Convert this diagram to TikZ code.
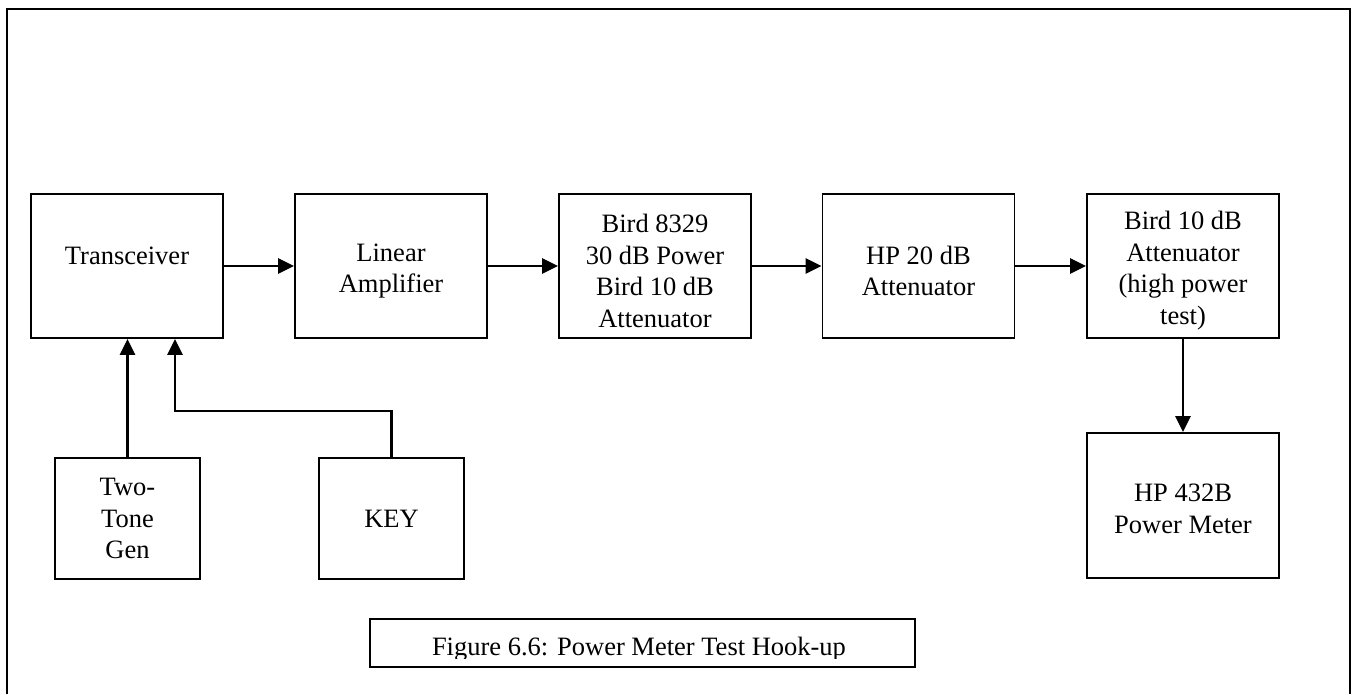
\documentclass[tikz,border=0pt]{standalone}
\usepackage{fontspec}
\setmainfont{Liberation Serif}
\usetikzlibrary{arrows.meta}
% taller first line, pushes the block text down a little
\newcommand{\tpad}[1][28pt]{\rule{0pt}{#1}}

\begin{document}
\begin{tikzpicture}[x=1pt,y=-1pt]
\tikzset{
  blk/.style={draw, line width=1.8pt, minimum width=192pt, minimum height=144pt,
    inner sep=0pt, align=center, font=\fontsize{26.5}{31.5}\selectfont},
  sml/.style={blk, minimum width=145pt, minimum height=121pt},
  sig/.style={-{Triangle[length=16pt,width=15pt]}, line width=2.6pt},
}
\useasboundingbox (0,0) rectangle (1352,694);
%% --- outer frame (bottom edge runs off the page) ---
\draw[line width=2.4pt] (7,694) -- (7,9) -- (1350,9) -- (1350,694);
%% --- top row ---
\node[blk] (trx) at (127,266) {\tpad Transceiver\\\mbox{}};
\node[blk] (lin) at (391,266) {\tpad Linear\\Amplifier};
\node[blk] (b83) at (655,266) {\tpad Bird 8329\\30 dB Power\\Bird 10 dB\\Attenuator};
\node[blk] (hp20) at (918.5,266) {\tpad HP 20 dB\\Attenuator};
\node[blk] (b10) at (1183,266) {\tpad Bird 10 dB\\Attenuator\\(high power\\test)};
%% --- bottom row ---
\node[sml] (ttg) at (127.5,518.5) {Two-\\Tone\\Gen};
\node[sml] (key) at (391.5,518.5) {KEY};
\node[blk, minimum height=145pt] (pm) at (1183,505.5) {\tpad[24pt]HP 432B\\Power Meter};
\coordinate (kbend) at (175,411);
%% --- signal path ---
\draw[sig] (trx) -- (lin);
\draw[sig] (lin) -- (b83);
\draw[sig] (b83) -- (hp20);
\draw[sig] (hp20) -- (b10);
\draw[sig] (b10) -- (pm);
\draw[sig] (ttg.north) -- (ttg.north |- trx.south);
\draw[sig] (key.north) |- (kbend) -- (kbend |- trx.south);
%% --- caption (descenders cut by the box) ---
\node[draw, line width=1.8pt, minimum width=545pt, minimum height=48pt] (cap) at (642.5,643) {};
\begin{scope}
\clip (370,619) rectangle (915,658.5);
\node[anchor=base, inner sep=0pt, font=\fontsize{26.5}{31.5}\selectfont] (captxt) at (639,655) {Figure 6.6: Power Meter Test Hook-up};
\end{scope}
\end{tikzpicture}
\end{document}
